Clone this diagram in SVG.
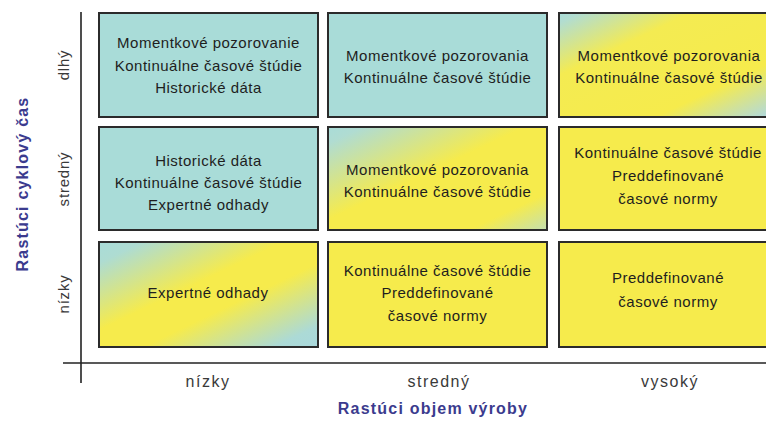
<svg xmlns="http://www.w3.org/2000/svg" width="766" height="425" viewBox="0 0 766 425">
  <style>
    .box { stroke: #2b2b2b; stroke-width: 2; }
    .teal { fill: #a9dcd8; }
    .yellow { fill: #f6eb4c; }
    .cell { font-family: "Liberation Sans", Arial, sans-serif; font-size: 15px; letter-spacing: 0.5px; fill: #1e1e1e; text-anchor: middle; }
    .tick { font-family: "Liberation Sans", Arial, sans-serif; font-size: 16px; letter-spacing: 1.5px; fill: #3a3a3a; text-anchor: middle; }
    .vtick { font-family: "Liberation Sans", Arial, sans-serif; font-size: 15px; letter-spacing: 0.8px; fill: #3a3a3a; text-anchor: middle; }
    .title { font-family: "Liberation Sans", Arial, sans-serif; font-size: 16px; font-weight: bold; letter-spacing: 1.2px; fill: #3b3b8e; text-anchor: middle; }
    .axis { stroke: #222; stroke-width: 1.6; fill: none; }
  </style>
  <defs>
    <!-- teal corners with a yellow band along the other diagonal -->
    <linearGradient id="gradBand" x1="0" y1="0" x2="1" y2="1">
      <stop offset="0" stop-color="#a9dcd8"/>
      <stop offset="0.1" stop-color="#aedcd2"/>
      <stop offset="0.42" stop-color="#f6eb4c"/>
      <stop offset="0.6" stop-color="#f6eb4c"/>
      <stop offset="0.9" stop-color="#acdad6"/>
      <stop offset="1" stop-color="#a9d8dc"/>
    </linearGradient>
    <linearGradient id="gradCorner" x1="0" y1="0" x2="1" y2="1">
      <stop offset="0" stop-color="#a9dcd8"/>
      <stop offset="0.05" stop-color="#b2ddd0"/>
      <stop offset="0.3" stop-color="#f4eb52"/>
      <stop offset="0.72" stop-color="#f6eb4c"/>
      <stop offset="0.96" stop-color="#b4dad6"/>
      <stop offset="1" stop-color="#acd8dc"/>
    </linearGradient>
    <linearGradient id="gradMid" x1="0" y1="0" x2="1" y2="1">
      <stop offset="0" stop-color="#a9dcd8"/>
      <stop offset="0.08" stop-color="#b0dcd2"/>
      <stop offset="0.45" stop-color="#f6eb4c"/>
      <stop offset="0.82" stop-color="#f6eb4c"/>
      <stop offset="1" stop-color="#c4e0b0"/>
    </linearGradient>
  </defs>

  <rect width="766" height="425" fill="#ffffff"/>

  <!-- axes -->
  <g id="axes">
    <line class="axis" x1="81" y1="12" x2="81" y2="383"/>
    <line class="axis" x1="63" y1="363" x2="766" y2="363"/>
  </g>

  <!-- row: dlhý -->
  <g id="cell-r1c1">
    <rect class="box teal" x="99" y="13" width="219" height="104"/>
    <text class="cell" x="208.5" y="48">Momentkové pozorovanie</text>
    <text class="cell" x="208.5" y="70.5">Kontinuálne časové štúdie</text>
    <text class="cell" x="208.5" y="93">Historické dáta</text>
  </g>
  <g id="cell-r1c2">
    <rect class="box teal" x="328" y="13" width="219" height="104"/>
    <text class="cell" x="437.5" y="61">Momentkové pozorovania</text>
    <text class="cell" x="437.5" y="83">Kontinuálne časové štúdie</text>
  </g>
  <g id="cell-r1c3">
    <rect class="box" fill="url(#gradCorner)" x="559" y="13" width="219" height="104"/>
    <text class="cell" x="669" y="61">Momentkové pozorovania</text>
    <text class="cell" x="669" y="83">Kontinuálne časové štúdie</text>
  </g>

  <!-- row: stredný -->
  <g id="cell-r2c1">
    <rect class="box teal" x="99" y="127" width="219" height="103"/>
    <text class="cell" x="208.5" y="165.5">Historické dáta</text>
    <text class="cell" x="208.5" y="188">Kontinuálne časové štúdie</text>
    <text class="cell" x="208.5" y="210">Expertné odhady</text>
  </g>
  <g id="cell-r2c2">
    <rect class="box" fill="url(#gradMid)" x="328" y="127" width="219" height="103"/>
    <text class="cell" x="437.5" y="175">Momentkové pozorovania</text>
    <text class="cell" x="437.5" y="197">Kontinuálne časové štúdie</text>
  </g>
  <g id="cell-r2c3">
    <rect class="box yellow" x="559" y="127" width="219" height="103"/>
    <text class="cell" x="668" y="158">Kontinuálne časové štúdie</text>
    <text class="cell" x="668" y="181">Preddefinované</text>
    <text class="cell" x="668" y="204">časové normy</text>
  </g>

  <!-- row: nízky -->
  <g id="cell-r3c1">
    <rect class="box" fill="url(#gradBand)" x="99" y="242" width="219" height="105"/>
    <text class="cell" x="208" y="298">Expertné odhady</text>
  </g>
  <g id="cell-r3c2">
    <rect class="box yellow" x="328" y="242" width="219" height="105"/>
    <text class="cell" x="437.5" y="276">Kontinuálne časové štúdie</text>
    <text class="cell" x="437.5" y="298">Preddefinované</text>
    <text class="cell" x="437.5" y="320.5">časové normy</text>
  </g>
  <g id="cell-r3c3">
    <rect class="box yellow" x="559" y="242" width="219" height="105"/>
    <text class="cell" x="668" y="283">Preddefinované</text>
    <text class="cell" x="668" y="307">časové normy</text>
  </g>

  <!-- vertical axis categories -->
  <g id="y-labels">
    <text class="vtick" transform="translate(69,65) rotate(-90)">dlhý</text>
    <text class="vtick" transform="translate(69,179) rotate(-90)">stredný</text>
    <text class="vtick" transform="translate(69,294) rotate(-90)">nízky</text>
    <text class="title" transform="translate(28,184) rotate(-90)">Rastúci cyklový čas</text>
  </g>

  <!-- horizontal axis categories -->
  <g id="x-labels">
    <text class="tick" x="208" y="387">nízky</text>
    <text class="tick" x="439" y="387">stredný</text>
    <text class="tick" x="670" y="387">vysoký</text>
    <text class="title" x="433" y="414">Rastúci objem výroby</text>
  </g>
</svg>
